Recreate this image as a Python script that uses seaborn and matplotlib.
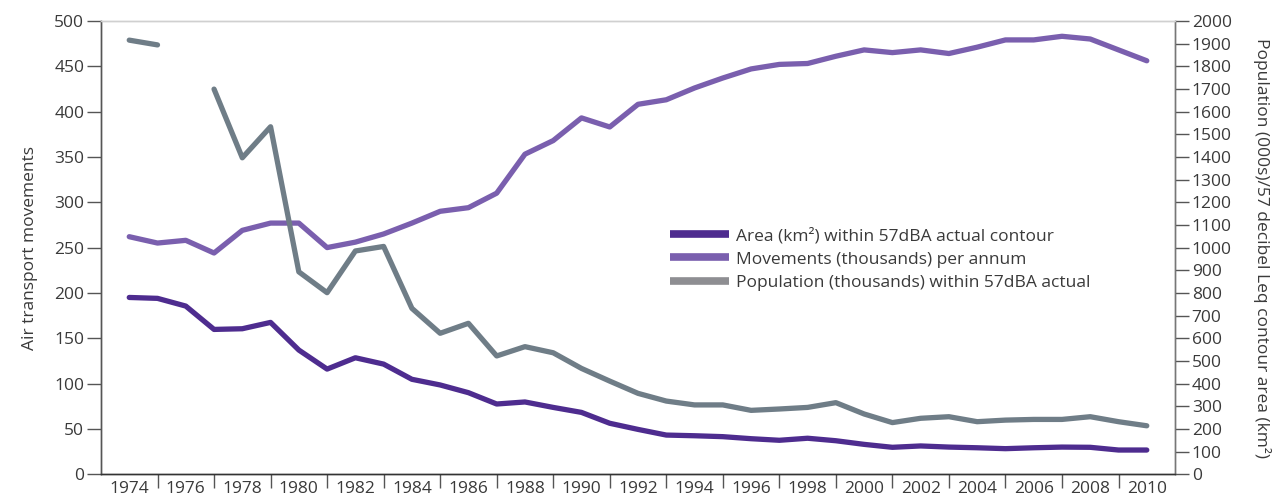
import numpy as np
import pandas as pd
import matplotlib.pyplot as plt
import seaborn as sns
from matplotlib.lines import Line2D

years = list(range(1974, 2011))

# air transport movements (thousands) - left axis
movements = [262, 255, 258, 244, 269, 277, 277, 250, 256, 265,
             277, 290, 294, 310, 353, 368, 393, 383, 408, 413,
             426, 437, 447, 452, 453, 461, 468, 465, 468, 464,
             471, 479, 479, 483, 480, 468, 456]

# area (km2) within 57dBA contour - right axis
area = [780, 776, 742, 639, 642, 670, 548, 464, 514, 486,
        419, 394, 360, 310, 319, 295, 273, 225, 198, 173,
        170, 166, 157, 150, 159, 148, 132, 119, 125, 120,
        117, 113, 117, 120, 119, 107, 107]

# population (thousands) within 57dBA - right axis, 1976 missing
population = [1915, 1894, np.nan, 1699, 1396, 1533, 893, 801, 985, 1005,
              732, 622, 666, 522, 563, 536, 467, 411, 357, 323,
              306, 306, 282, 288, 295, 316, 266, 228, 247, 254,
              232, 239, 242, 242, 254, 232, 214]

labels = ["Area (km\u00b2) within 57dBA actual contour",
          "Movements (thousands) per annum",
          "Population (thousands) within 57dBA actual"]

c_area = "#4e2c8f"
c_mov = "#7a5fae"
c_pop = "#6f7d87"
c_pop_leg = "#8e8e92"

sns.set_theme(style="white")
plt.rcParams['font.family'] = ['Open Sans', 'DejaVu Sans']
plt.rcParams['text.color'] = '#3a3a3a'

df = pd.DataFrame({"year": years, "movements": movements,
                   "area": area, "population": population})
# split population so the missing year leaves a gap
df["segment"] = np.where(df["year"] < 1976, "a", "b")

fig = plt.figure(figsize=(12.75, 4.97), dpi=100)
ax = fig.add_axes([0.0792, 0.0457, 0.8424, 0.9123])
ax2 = ax.twinx()

sns.lineplot(data=df, x="year", y="movements", ax=ax, color=c_mov, lw=3.8)
sns.lineplot(data=df, x="year", y="area", ax=ax2, color=c_area, lw=3.8)
pop = df.dropna(subset=["population"])
sns.lineplot(data=pop, x="year", y="population", units="segment", estimator=None,
             ax=ax2, color=c_pop, lw=3.8)

ax.set_xlim(1973, 2011)
ax.set_ylim(0, 500)
ax2.set_ylim(0, 2000)
ax.set_yticks(range(0, 501, 50))
ax2.set_yticks(range(0, 2001, 100))

# tick marks at odd years, labels at even years
ax.set_xticks(range(1975, 2011, 2))
ax.set_xticklabels([])
ax.set_xticks(range(1974, 2011, 2), minor=True)
ax.set_xticklabels([str(y) for y in range(1974, 2011, 2)], minor=True)
ax.tick_params(axis="x", which="major", direction="out", length=10, width=1, color="#555555", bottom=True)
ax.tick_params(axis="x", which="minor", length=0, pad=5, labelsize=12.5, labelcolor="#3a3a3a", bottom=True)
ax.tick_params(axis="y", direction="out", length=10, width=1, color="#555555", labelsize=12.5,
               labelcolor="#3a3a3a", pad=2, left=True)
ax2.tick_params(axis="y", direction="out", length=10, width=1, color="#555555", labelsize=12.5,
                labelcolor="#3a3a3a", pad=2, right=True)

ax.set_xlabel("")
ax.set_ylabel("Air transport movements", fontsize=12.5, color="#3a3a3a", labelpad=12)
ax2.set_ylabel("Population (000s)/57 decibel Leq contour area (km\u00b2)", fontsize=12.5,
               color="#3a3a3a", rotation=270, labelpad=28)

for a in (ax, ax2):
    a.spines["top"].set_color("#d0d0d0")
    a.spines["left"].set_color("#555555")
    a.spines["right"].set_color("#777777")
    a.spines["bottom"].set_color("#333333")
    for s in a.spines.values():
        s.set_linewidth(1)

handles = [Line2D([], [], color=c_area, lw=5.5, solid_capstyle="butt"),
           Line2D([], [], color=c_mov, lw=5.5, solid_capstyle="butt"),
           Line2D([], [], color=c_pop_leg, lw=5.5, solid_capstyle="butt")]
ax2.legend(handles, labels, loc="upper left", bbox_to_anchor=(0.52, 0.556),
           bbox_transform=fig.transFigure, frameon=False, fontsize=12.5,
           handlelength=3.4, handletextpad=0.4, labelspacing=0.42, borderaxespad=0)

fig.savefig("out.png", dpi=100)
